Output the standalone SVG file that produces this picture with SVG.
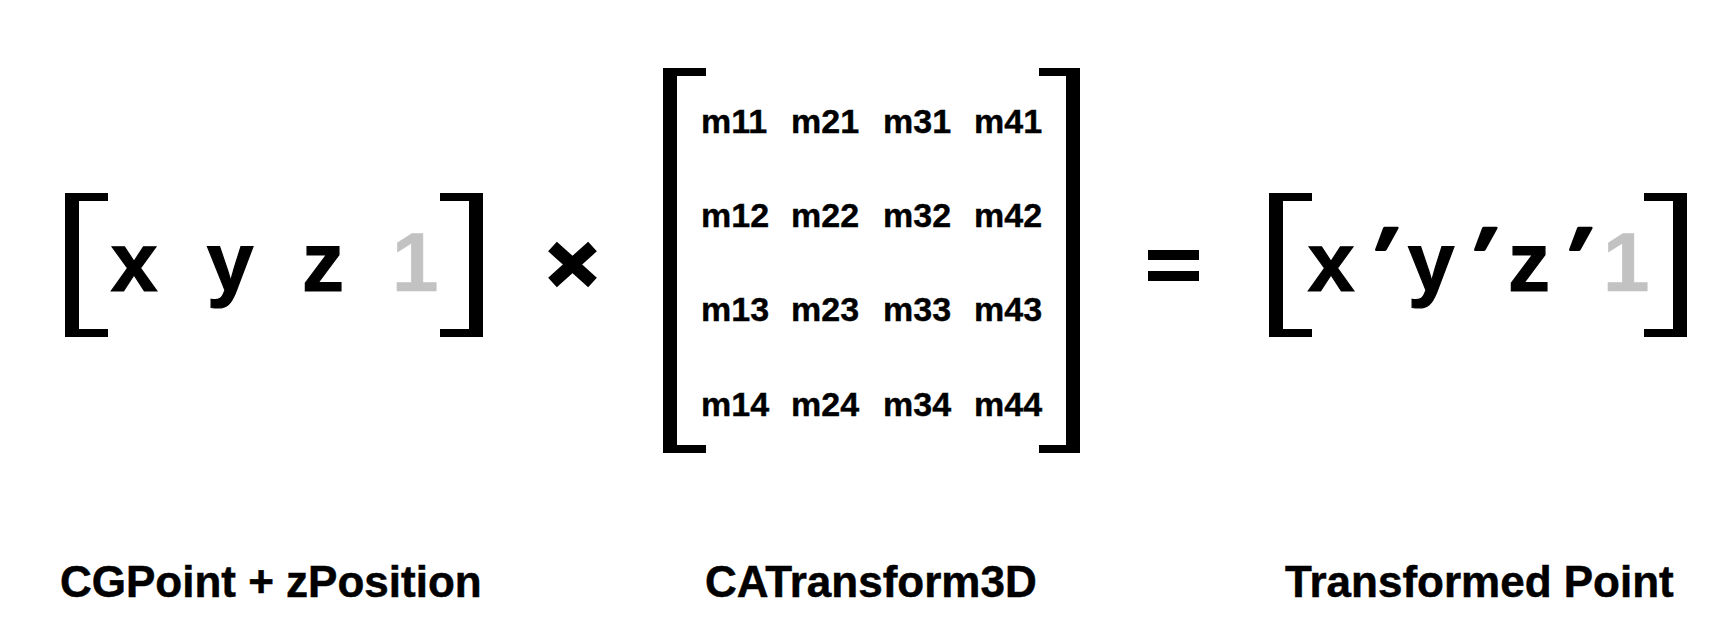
<svg xmlns="http://www.w3.org/2000/svg" width="1734" height="628" viewBox="0 0 1734 628">
  <style>
    .t { font-family: "Liberation Sans", Arial, Helvetica, sans-serif; font-weight: bold; fill: #000; }
    .big { font-size: 84px; text-anchor: middle; stroke: #000; stroke-width: 1.2; }
    .gray { fill: #c2c2c2; stroke: #c2c2c2; stroke-width: 0.6; }
    .pr { font-size: 84px; text-anchor: middle; stroke: #000; stroke-width: 3; stroke-linejoin: round; }
    .m { font-size: 34px; stroke: #000; stroke-width: 0.4; }
    .lbl { font-size: 44px; stroke: #000; stroke-width: 0.5; }
    .br { fill: #000; }
  </style>
  <rect width="1734" height="628" fill="#fff"/>

  <g id="input-vector">
    <path class="br" d="M65,193 H108 V201 H79 V329 H108 V337 H65 Z"/>
    <path class="br" d="M483,193 H440 V201 H469 V329 H440 V337 H483 Z"/>
    <text class="t big" x="134" y="291">x</text>
    <text class="t big" x="230" y="291">y</text>
    <text class="t big" x="323" y="291">z</text>
    <text class="t big gray" x="415" y="291">1</text>
  </g>

  <g id="multiply">
    <path d="M552.5,246.5 L592.5,282.5 M592.5,246.5 L552.5,282.5" stroke="#000" stroke-width="13" fill="none"/>
  </g>

  <g id="matrix">
    <path class="br" d="M663,68 H706 V76 H677 V445 H706 V453 H663 Z"/>
    <path class="br" d="M1080,68 H1039 V76 H1066 V445 H1039 V453 H1080 Z"/>
    <g class="t m">
      <text x="701" y="133">m11</text>
      <text x="791" y="133">m21</text>
      <text x="883" y="133">m31</text>
      <text x="974" y="133">m41</text>
      <text x="701" y="227">m12</text>
      <text x="791" y="227">m22</text>
      <text x="883" y="227">m32</text>
      <text x="974" y="227">m42</text>
      <text x="701" y="321">m13</text>
      <text x="791" y="321">m23</text>
      <text x="883" y="321">m33</text>
      <text x="974" y="321">m43</text>
      <text x="701" y="416">m14</text>
      <text x="791" y="416">m24</text>
      <text x="883" y="416">m34</text>
      <text x="974" y="416">m44</text>
    </g>
  </g>

  <g id="equals">
    <rect x="1148" y="250" width="51" height="10" fill="#000"/>
    <rect x="1148" y="271" width="51" height="10" fill="#000"/>
  </g>

  <g id="output-vector">
    <path class="br" d="M1269,193 H1312 V201 H1283 V329 H1312 V337 H1269 Z"/>
    <path class="br" d="M1687,193 H1644 V201 H1673 V329 H1644 V337 H1687 Z"/>
    <text class="t big" x="1331" y="291">x</text>
    <text class="t pr" transform="translate(1374,286) skewX(-14)">′</text>
    <text class="t big" x="1431" y="291">y</text>
    <text class="t pr" transform="translate(1473,286) skewX(-14)">′</text>
    <text class="t big" x="1529" y="291">z</text>
    <text class="t pr" transform="translate(1568,286) skewX(-14)">′</text>
    <text class="t big gray" x="1626" y="291">1</text>
  </g>

  <g id="connectors"></g>

  <g id="labels">
    <text class="t lbl" x="60" y="597">CGPoint + zPosition</text>
    <text class="t lbl" x="705" y="597">CATransform3D</text>
    <text class="t lbl" x="1285" y="597">Transformed Point</text>
  </g>
</svg>
